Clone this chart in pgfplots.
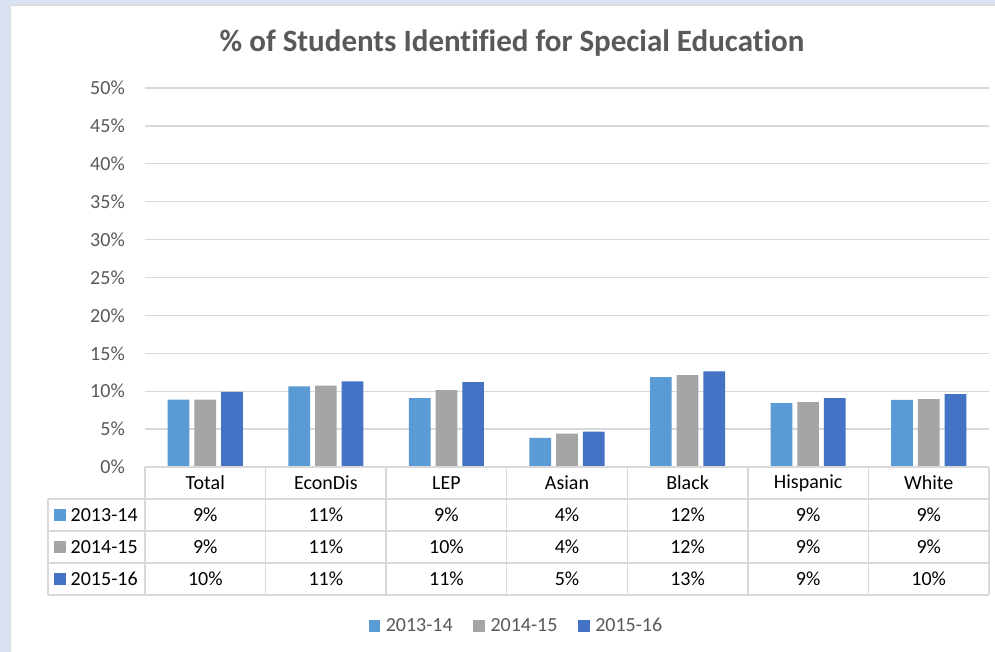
\documentclass[border=0pt]{standalone}
\usepackage{pgfplots}
\pgfplotsset{compat=1.18}
\usepackage{fontspec}
\setmainfont{Carlito}[Ligatures=NoCommon]
\definecolor{cA}{HTML}{5B9BD5}
\definecolor{cB}{HTML}{A5A5A5}
\definecolor{cC}{HTML}{4472C4}
\definecolor{gridgray}{HTML}{D9D9D9}
\definecolor{txtgray}{HTML}{595959}
\definecolor{bgblue}{HTML}{DAE2F1}
\begin{document}
\begin{tikzpicture}[x=1pt,y=1pt]
\path[use as bounding box] (0,0) rectangle (995,652);
\fill[bgblue] (0,0) rectangle (995,652);
\fill[white] (10,-5) rectangle (1000,646);
\draw[gridgray, line width=1pt] (10,-5) -- (10,646) -- (1000,646);
\node[anchor=base, text=txtgray, font=\fontsize{31}{36}\selectfont\bfseries] at (512,600.5) {\% of Students Identified for Special Education};
\begin{axis}[
  at={(145pt,185pt)}, anchor=south west,
  scale only axis, width=844pt, height=379pt,
  xmin=-0.5, xmax=6.5, ymin=0, ymax=50,
  xtick=\empty,
  ytick={0,5,10,15,20,25,30,35,40,45,50},
  yticklabels={0\%,5\%,10\%,15\%,20\%,25\%,30\%,35\%,40\%,45\%,50\%},
  yticklabel style={font=\fontsize{20}{24}\selectfont, text=txtgray, inner sep=0pt, anchor=east, xshift=-20pt},
  major tick length=0pt,
  axis line style={draw=none},
  ymajorgrids, grid style={gridgray, line width=1.3pt},
  ybar=5pt, bar width=21.7pt,
  legend columns=3,
  legend style={at={(0.4389,-0.419)}, anchor=center, draw=none, fill=none,
    font=\fontsize{20}{24}\selectfont, text=txtgray,
    /tikz/every odd column/.append style={column sep=5.6pt},
    /tikz/every even column/.append style={column sep=20.7pt},
    inner sep=0pt, nodes={inner sep=0pt}},
  legend image code/.code={\fill[#1] (0pt,-6pt) rectangle (11.5pt,6pt);},
  clip=false,
]
\addplot[fill=cA, draw=none] coordinates {(0,8.88) (1,10.63) (2,9.1) (3,3.83) (4,11.87) (5,8.44) (6,8.84)};
\addplot[fill=cB, draw=none] coordinates {(0,8.88) (1,10.72) (2,10.15) (3,4.4) (4,12.13) (5,8.57) (6,8.97)};
\addplot[fill=cC, draw=none] coordinates {(0,9.9) (1,11.3) (2,11.2) (3,4.66) (4,12.6) (5,9.1) (6,9.63)};
\legend{2013-14,2014-15,2015-16}
\end{axis}
% data table
\draw[gridgray, line width=1.3pt] (145,185) -- (989,185);
\foreach \yy in {153,121,89,57} {\draw[gridgray, line width=1.3pt] (48,\yy) -- (989,\yy);}
\foreach \k in {0,...,7} {\draw[gridgray, line width=1.3pt] ({145+\k*120.571},185) -- ({145+\k*120.571},57);}
\draw[gridgray, line width=1.3pt] (48,153) -- (48,57);
\foreach \lab [count=\i from 0] in {Total,EconDis,LEP,Asian,Black,Hispanic,White}
  {\node[font=\fontsize{20}{24}\selectfont, inner sep=0pt] at ({145+(\i+0.5)*120.571},169) {\lab};}
\foreach \v [count=\i from 0] in {9,11,9,4,12,9,9}
  {\node[font=\fontsize{20}{24}\selectfont, inner sep=0pt] at ({145+(\i+0.5)*120.571},137) {\v\%};}
\foreach \v [count=\i from 0] in {9,11,10,4,12,9,9}
  {\node[font=\fontsize{20}{24}\selectfont, inner sep=0pt] at ({145+(\i+0.5)*120.571},105) {\v\%};}
\foreach \v [count=\i from 0] in {10,11,11,5,13,9,10}
  {\node[font=\fontsize{20}{24}\selectfont, inner sep=0pt] at ({145+(\i+0.5)*120.571},73) {\v\%};}
\foreach \c/\lab/\yy in {cA/2013-14/137,cB/2014-15/105,cC/2015-16/73}
  {\fill[\c] (54,\yy-6) rectangle (66,\yy+6);
   \node[font=\fontsize{20}{24}\selectfont, inner sep=0pt, anchor=west] at (70.5,\yy) {\lab};}
\end{tikzpicture}
\end{document}
